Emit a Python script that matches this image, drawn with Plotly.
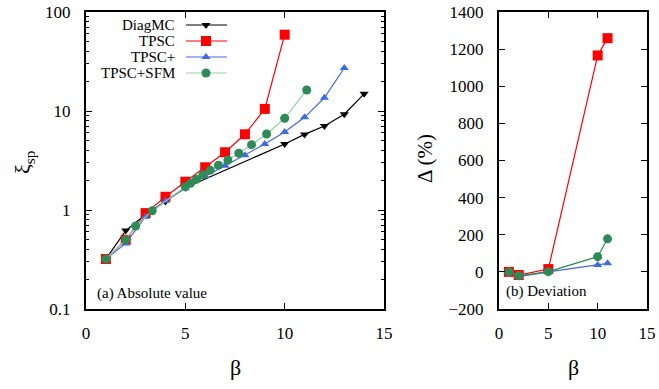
import plotly.graph_objects as go

# ---------------- data ----------------
beta_diag = [1, 2, 3, 4, 5, 10, 11, 12, 13, 14]
xi_diag = [0.32, 0.62, 0.90, 1.22, 1.68, 4.64, 5.8, 7.05, 9.27, 14.9]

beta_tpsc = [1, 2, 3, 4, 5, 6, 7, 8, 9, 10]
xi_tpsc = [0.32, 0.50, 0.93, 1.36, 1.93, 2.70, 3.83, 5.82, 10.5, 59]

beta_tpscp = [1, 2, 3, 4, 5, 6, 7, 8, 9, 10, 11, 12, 13]
xi_tpscp = [0.32, 0.46, 0.855, 1.24, 1.66, 2.2, 2.80, 3.57, 4.64, 6.13, 8.63, 13.6, 27.2]

beta_sfm = [1, 2, 2.5, 3.333, 5, 5.263, 5.556, 5.882, 6.25, 6.667, 7.143, 7.692,
            8.333, 9.091, 10, 11.111]
xi_sfm = [0.32, 0.50, 0.69, 0.98, 1.72, 1.86, 2.04, 2.27, 2.52, 2.83, 3.20, 3.74,
          4.57, 5.86, 8.44, 16.3]

beta_dev = [1, 2, 5, 10, 11]
dev_tpsc = [0, -17, 15, 1166, 1259]
dev_tpscp = [0, -25, 0, 37, 46]
dev_sfm = [0, -21, 1, 82, 178]

series_names = ["DiagMC", "TPSC", "TPSC+", "TPSC+SFM"]
x_ticks = [0, 5, 10, 15]
y_log_ticks = [0.1, 1, 10, 100]
y_log_labels = ["0.1", "1", "10", "100"]

# ---------------- styles ----------------
FONT = "Liberation Serif, Times New Roman, serif"
BLACK = "#000000"
RED = "#ff0000"
BLUE = "#4169e1"
GREEN = "#2e8b57"
GREEN_LIGHT = "#8fd3a3"

styles = {
    "DiagMC": dict(color=BLACK, line=BLACK, symbol="triangle-down", size=8),
    "TPSC": dict(color=RED, line=RED, symbol="square", size=10),
    "TPSC+": dict(color=BLUE, line=BLUE, symbol="triangle-up", size=8),
    "TPSC+SFM": dict(color=GREEN, line=GREEN_LIGHT, symbol="circle", size=9),
}

W, H = 659, 389
fig = go.Figure()

left_data = [
    ("DiagMC", beta_diag, xi_diag),
    ("TPSC", beta_tpsc, xi_tpsc),
    ("TPSC+", beta_tpscp, xi_tpscp),
    ("TPSC+SFM", beta_sfm, xi_sfm),
]
for name, xs, ys in left_data:
    s = styles[name]
    fig.add_trace(go.Scatter(
        x=xs, y=ys, mode="lines+markers", name=name, showlegend=False,
        line=dict(color=s["line"], width=1.2),
        marker=dict(symbol=s["symbol"], size=s["size"], color=s["color"], line=dict(width=0)),
        xaxis="x", yaxis="y"))

right_data = [
    ("TPSC", dev_tpsc, RED),
    ("TPSC+", dev_tpscp, BLUE),
    ("TPSC+SFM", dev_sfm, GREEN),
]
for name, ys, lc in right_data:
    s = styles[name]
    fig.add_trace(go.Scatter(
        x=beta_dev, y=ys, mode="lines+markers", name=name, showlegend=False,
        line=dict(color=lc, width=1.2),
        marker=dict(symbol=s["symbol"], size=s["size"], color=s["color"], line=dict(width=0)),
        xaxis="x2", yaxis="y2"))

# ---------------- manual legend (text left of sample) ----------------
leg_rows_y = [25, 41, 57, 73]
leg_text_right = 177
leg_line = (186, 227)
leg_marker_x = 206
annotations = []
for name, ry in zip(series_names, leg_rows_y):
    s = styles[name]
    fig.add_trace(go.Scatter(
        x=[leg_line[0], leg_line[1]], y=[ry, ry], mode="lines", showlegend=False,
        line=dict(color=s["line"], width=1.2), hoverinfo="skip",
        xaxis="x3", yaxis="y3"))
    fig.add_trace(go.Scatter(
        x=[leg_marker_x], y=[ry], mode="markers", showlegend=False,
        marker=dict(symbol=s["symbol"], size=s["size"], color=s["color"], line=dict(width=0)),
        hoverinfo="skip", xaxis="x3", yaxis="y3"))
    annotations.append(dict(
        x=leg_text_right / W, y=1 - ry / H, xref="paper", yref="paper",
        text=name, showarrow=False, xanchor="right", yanchor="middle",
        font=dict(family=FONT, size=15, color=BLACK)))

# ---------------- axes ----------------
axis_common = dict(
    showline=True, linewidth=2, linecolor=BLACK, mirror="ticks",
    ticks="inside", ticklen=6, tickwidth=1, tickcolor=BLACK,
    showgrid=False, zeroline=False, automargin=False,
    tickfont=dict(family=FONT, size=17, color=BLACK),
)

fig.update_layout(
    width=W, height=H,
    margin=dict(l=0, r=0, t=0, b=0, pad=0),
    paper_bgcolor="white", plot_bgcolor="rgba(0,0,0,0)",
    showlegend=False,
    font=dict(family=FONT, color=BLACK),
    xaxis=dict(domain=[86 / W, 384 / W], range=[0, 15], tickvals=x_ticks,
               anchor="y", ticklabelstandoff=8, **axis_common),
    yaxis=dict(domain=[1 - 309 / H, 1 - 12 / H], type="log", range=[-1, 2],
               tickvals=y_log_ticks, ticktext=y_log_labels, anchor="x",
               ticklabelstandoff=10,
               minor=dict(dtick="D1", ticks="inside", ticklen=3,
                          tickcolor=BLACK, showgrid=False),
               **axis_common),
    xaxis2=dict(domain=[499 / W, 647 / W], range=[0, 15], tickvals=x_ticks,
                anchor="y2", ticklabelstandoff=8, **axis_common),
    yaxis2=dict(domain=[1 - 309 / H, 1 - 12 / H], range=[-200, 1400], dtick=200,
                anchor="x2", ticklabelstandoff=10, **axis_common),
    xaxis3=dict(domain=[0, 1], range=[0, W], visible=False, anchor="y3", automargin=False),
    yaxis3=dict(domain=[0, 1], range=[H, 0], visible=False, anchor="x3", automargin=False),
)

annotations += [
    dict(x=24 / W, y=1 - 162 / H, xref="paper", yref="paper", text="ξ<sub>sp</sub>",
         xanchor="center", yanchor="middle",
         textangle=-90, showarrow=False, font=dict(family=FONT, size=22, color=BLACK)),
    dict(x=235 / W, y=1 - 367 / H, xref="paper", yref="paper", text="β",
         xanchor="center", yanchor="middle",
         showarrow=False, font=dict(family=FONT, size=22, color=BLACK)),
    dict(x=425 / W, y=1 - 158 / H, xref="paper", yref="paper", text="Δ (%)",
         xanchor="center", yanchor="middle",
         textangle=-90, showarrow=False, font=dict(family=FONT, size=21, color=BLACK)),
    dict(x=573 / W, y=1 - 367 / H, xref="paper", yref="paper", text="β",
         xanchor="center", yanchor="middle",
         showarrow=False, font=dict(family=FONT, size=22, color=BLACK)),
    dict(x=95 / W, y=1 - 293 / H, xref="paper", yref="paper", text="(a) Absolute value",
         showarrow=False, xanchor="left", yanchor="middle",
         font=dict(family=FONT, size=15, color=BLACK)),
    dict(x=504 / W, y=1 - 291 / H, xref="paper", yref="paper", text="(b) Deviation",
         showarrow=False, xanchor="left", yanchor="middle",
         font=dict(family=FONT, size=15, color=BLACK)),
]
fig.update_layout(annotations=annotations)

fig.write_html("out.html")
